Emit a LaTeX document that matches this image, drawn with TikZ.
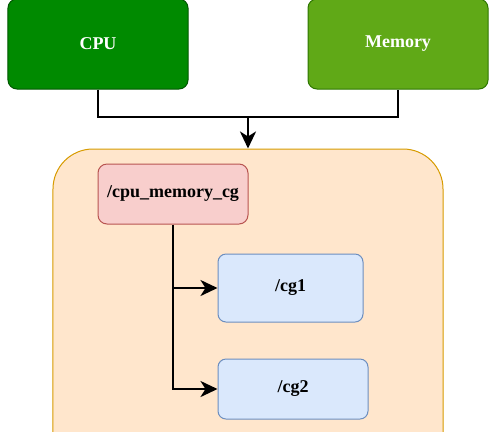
\documentclass[tikz,border=0pt]{standalone}
\usepackage{fontspec}
\setmainfont{Liberation Serif}
\usetikzlibrary{arrows.meta}

\definecolor{cpufill}{HTML}{008A00}
\definecolor{cpuline}{HTML}{005700}
\definecolor{memfill}{HTML}{60A917}
\definecolor{memline}{HTML}{2D7600}
\definecolor{grpfill}{HTML}{FFE6CC}
\definecolor{grpline}{HTML}{D79B00}
\definecolor{rootfill}{HTML}{F8CECC}
\definecolor{rootline}{HTML}{B85450}
\definecolor{cgfill}{HTML}{DAE8FC}
\definecolor{cgline}{HTML}{6C8EBF}

\begin{document}
\begin{tikzpicture}[x=1bp,y=-1bp]
	% pixel coordinates, y grows downwards
	\tikzset{%
		box/.style={draw,rounded corners=9bp,line width=1bp,inner sep=0pt,font=\bfseries\fontsize{18bp}{21bp}\selectfont},
		res/.style={box,minimum width=180bp,minimum height=90bp,text=white},
		cgbox/.style={box,rounded corners=8bp,fill=cgfill,draw=cgline},
		link/.style={line width=2.6bp,>={Stealth[length=17bp,width=16bp,inset=5bp]}},
	}

	\clip (0,0) rectangle (495,431);

	\node[res,fill=cpufill,draw=cpuline] (cpu) at (98,44) {CPU};
	\node[res,fill=memfill,draw=memline] (mem) at (398,44) {Memory};

	\node[draw=grpline,fill=grpfill,line width=1bp,rounded corners=40bp,
		minimum width=390bp,minimum height=331bp] (group) at (248,314.5) {};

	\node[box,fill=rootfill,draw=rootline,minimum width=150bp,minimum height=60bp] (root) at (173,194) {/cpu\_memory\_cg};
	\node[cgbox,minimum width=145bp,minimum height=68bp] (cg1) at (290.5,288) {/cg1};
	\node[cgbox,minimum width=150bp,minimum height=60bp] (cg2) at (293,389) {/cg2};

	\coordinate (join) at (248,117);

	\draw [link] (cpu.south) |- (join) -| (mem.south);
	\draw [link,->] (join) -- (group.north);

	\draw [link,->] (root.south) |- (cg2.west);
	\draw [link,->] (root.south |- cg1.west) -- (cg1.west);
\end{tikzpicture}
\end{document}
